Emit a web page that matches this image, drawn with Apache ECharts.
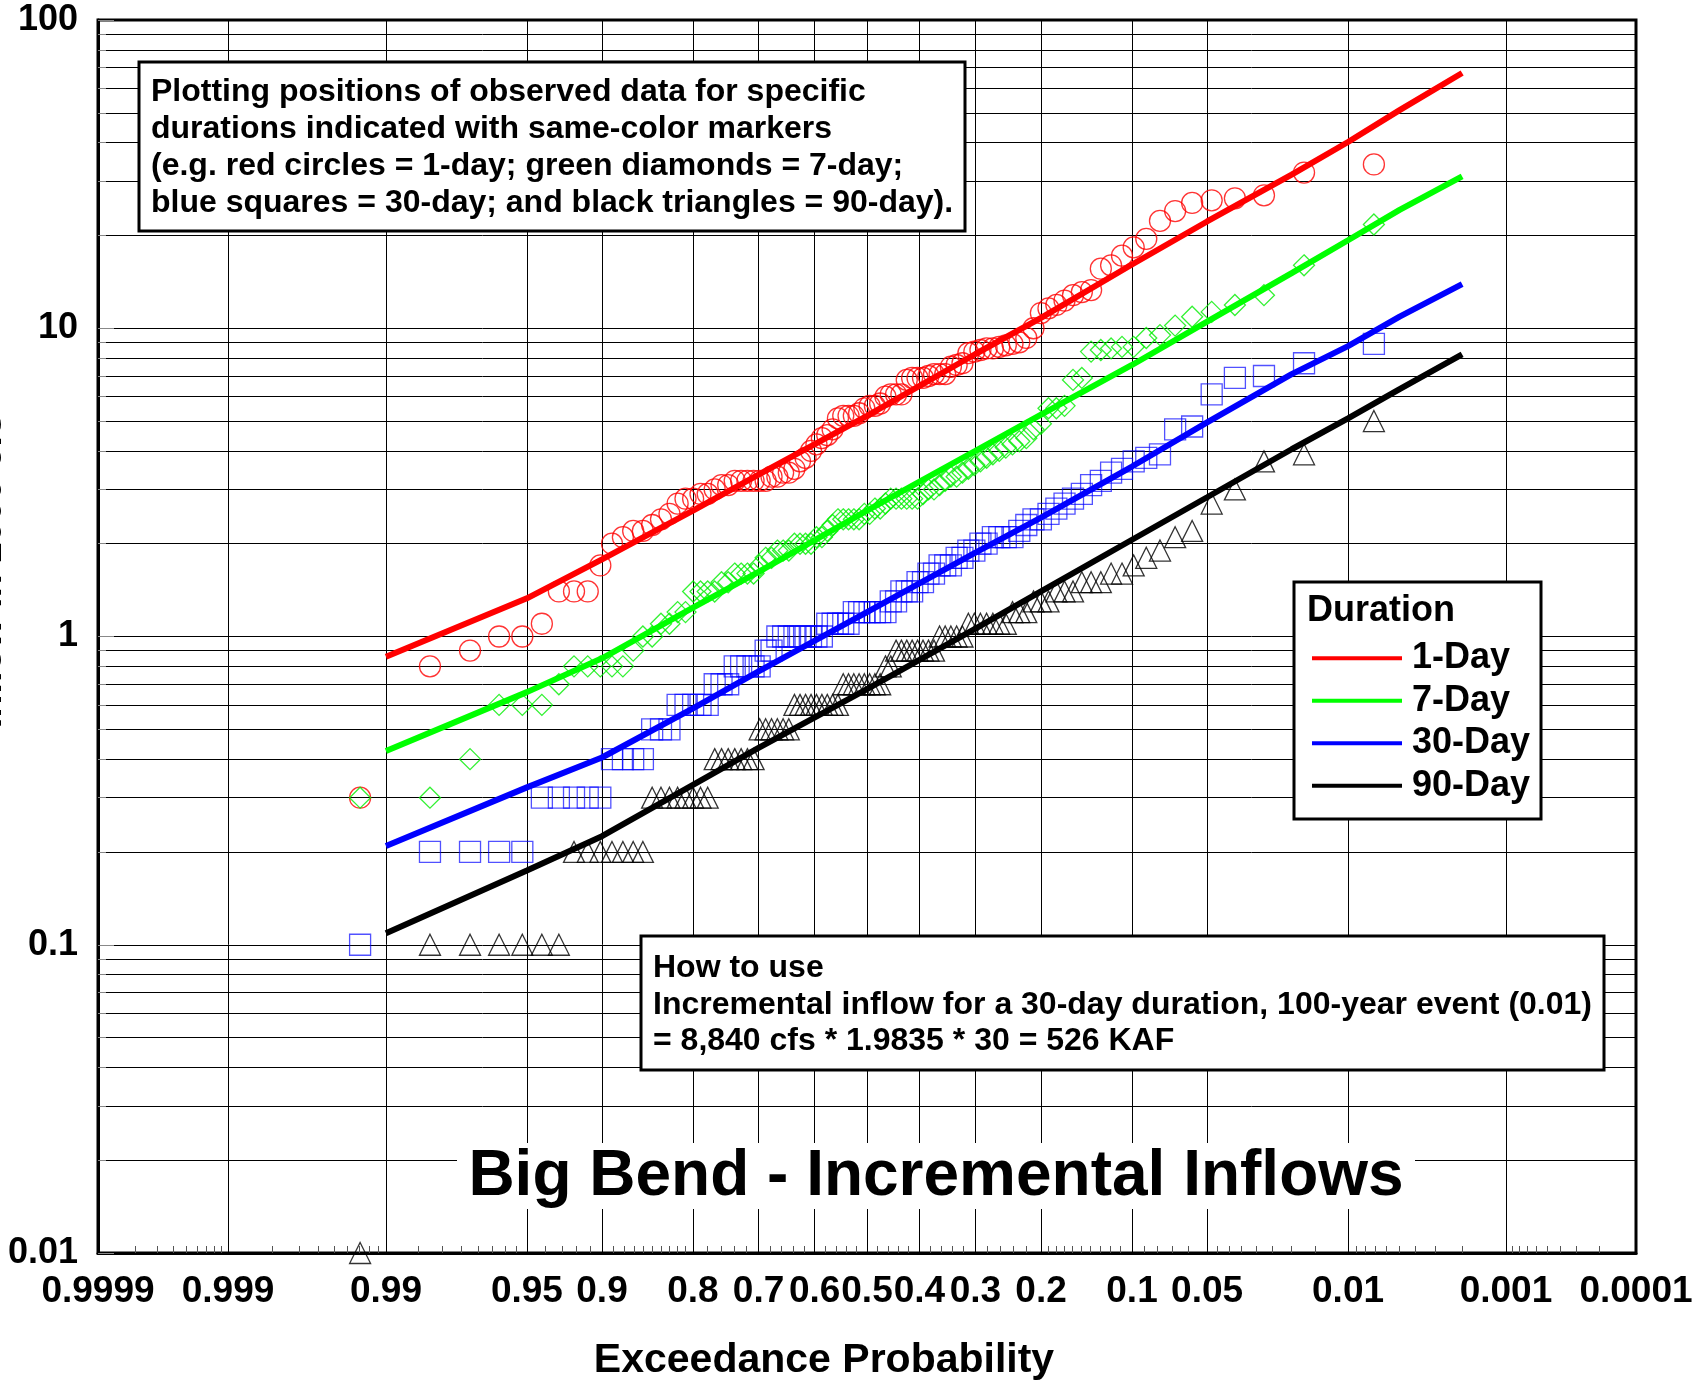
<!DOCTYPE html>
<html>
<head>
<meta charset="utf-8">
<script src="https://cdn.jsdelivr.net/npm/echarts@6/dist/echarts.min.js"></script>
<style>html,body{margin:0;padding:0;background:#fff}#chart{width:1707px;height:1384px}</style>
</head>
<body>
<div id="chart"></div>
<script>
// ---------------- DATA ----------------
// Observed values sorted from largest (rank 1) to smallest (rank 98), in 1000 cfs
const obs1Day = [34, 32, 27, 26.4, 26, 25.5, 24, 22.3, 19.5, 18.3,
  17.2, 16.0, 15.6, 13.3, 13.1, 12.8, 12.3, 11.9, 11.6, 11.2,
  10.0, 9.3, 9.0, 8.9, 8.8, 8.7, 8.6, 8.6, 8.5, 8.4,
  8.3, 7.7, 7.6, 7.5, 7.1, 7.1, 7.1, 7.0, 6.9, 6.9,
  6.9, 6.8, 6.1, 6.1, 6.1, 6.0, 5.7, 5.6, 5.6, 5.5,
  5.3, 5.2, 5.2, 5.2, 5.1, 4.7, 4.5, 4.4, 4.2, 4.0,
  3.8, 3.7, 3.5, 3.4, 3.4, 3.3, 3.3, 3.2, 3.2, 3.2,
  3.2, 3.2, 3.2, 3.1, 3.1, 3.0, 2.9, 2.9, 2.8, 2.8,
  2.7, 2.5, 2.4, 2.3, 2.2, 2.2, 2.1, 2.0, 1.7, 1.4,
  1.4, 1.4, 1.1, 1.0, 1.0, 0.9, 0.8, 0.3];
const obs7Day = [21.7, 16.0, 12.8, 11.9, 11.3, 10.9, 10.2, 9.5, 9.3, 8.7,
  8.7, 8.6, 8.5, 8.4, 6.9, 6.8, 5.6, 5.5, 5.5, 4.9,
  4.7, 4.4, 4.3, 4.2, 4.1, 4.0, 3.9, 3.8, 3.7, 3.6,
  3.5, 3.4, 3.3, 3.3, 3.2, 3.1, 3.0, 3.0, 2.9, 2.8,
  2.8, 2.8, 2.8, 2.8, 2.8, 2.7, 2.6, 2.6, 2.5, 2.5,
  2.4, 2.4, 2.4, 2.4, 2.4, 2.3, 2.2, 2.1, 2.1, 2.0,
  2.0, 2.0, 2.0, 1.9, 1.9, 1.9, 1.8, 1.8, 1.7, 1.6,
  1.6, 1.6, 1.6, 1.5, 1.5, 1.4, 1.4, 1.4, 1.4, 1.2,
  1.2, 1.1, 1.1, 1.0, 1.0, 0.9, 0.8, 0.8, 0.8, 0.8,
  0.8, 0.7, 0.6, 0.6, 0.6, 0.4, 0.3, 0.3];
const obs30Day = [8.9, 7.7, 7.0, 6.9, 6.1, 4.8, 4.7, 3.9, 3.8, 3.7,
  3.5, 3.4, 3.2, 3.1, 2.9, 2.8, 2.7, 2.6, 2.5, 2.4,
  2.4, 2.3, 2.2, 2.1, 2.1, 2.1, 2.1, 2.0, 2.0, 1.9,
  1.9, 1.8, 1.8, 1.7, 1.7, 1.7, 1.6, 1.6, 1.5, 1.5,
  1.4, 1.4, 1.4, 1.3, 1.3, 1.2, 1.2, 1.2, 1.2, 1.2,
  1.2, 1.2, 1.1, 1.1, 1.1, 1.1, 1.1, 1.0, 1.0, 1.0,
  1.0, 1.0, 1.0, 1.0, 1.0, 1.0, 0.9, 0.9, 0.8, 0.8,
  0.8, 0.8, 0.8, 0.7, 0.7, 0.7, 0.6, 0.6, 0.6, 0.6,
  0.6, 0.5, 0.5, 0.5, 0.4, 0.4, 0.4, 0.4, 0.3, 0.3,
  0.3, 0.3, 0.3, 0.2, 0.2, 0.2, 0.2, 0.1];
const obs90Day = [5.0, 3.9, 3.7, 3.0, 2.7, 2.2, 2.1, 1.9, 1.8, 1.7,
  1.6, 1.6, 1.5, 1.5, 1.5, 1.4, 1.4, 1.4, 1.3, 1.3,
  1.3, 1.2, 1.2, 1.2, 1.1, 1.1, 1.1, 1.1, 1.1, 1.1,
  1.1, 1.0, 1.0, 1.0, 1.0, 1.0, 0.9, 0.9, 0.9, 0.9,
  0.9, 0.9, 0.9, 0.9, 0.8, 0.8, 0.7, 0.7, 0.7, 0.7,
  0.7, 0.7, 0.7, 0.7, 0.6, 0.6, 0.6, 0.6, 0.6, 0.6,
  0.6, 0.6, 0.6, 0.5, 0.5, 0.5, 0.5, 0.5, 0.5, 0.4,
  0.4, 0.4, 0.4, 0.4, 0.4, 0.4, 0.3, 0.3, 0.3, 0.3,
  0.3, 0.3, 0.3, 0.3, 0.2, 0.2, 0.2, 0.2, 0.2, 0.2,
  0.2, 0.1, 0.1, 0.1, 0.1, 0.1, 0.1, 0.01];

// Fitted frequency curves (exceedance probability -> 1000 cfs)
const fitProb  = [0.99, 0.95, 0.9, 0.8, 0.7, 0.5, 0.3, 0.2, 0.1, 0.05, 0.02, 0.01, 0.005, 0.002];
const fit1Day  = [0.86, 1.33, 1.78, 2.56, 3.35, 5.2, 8.25, 10.8, 16.1, 22.2, 31.5, 40.2, 51, 67.3];
const fit7Day  = [0.425, 0.66, 0.85, 1.24, 1.62, 2.56, 4.0, 5.25, 7.6, 10.5, 15.1, 19.3, 24.2, 31.1];
const fit30Day = [0.209, 0.324, 0.405, 0.585, 0.77, 1.2, 1.87, 2.43, 3.56, 4.95, 7.1, 8.75, 10.9, 13.9];
const fit90Day = [0.109, 0.174, 0.225, 0.33, 0.435, 0.675, 1.06, 1.4, 2.06, 2.83, 4.05, 5.1, 6.35, 8.23];

const seriesNames = ['1-Day', '7-Day', '30-Day', '90-Day'];
const seriesColors = ['#ff0000', '#00ff00', '#0000ff', '#000000'];

// Probability-axis tick marks
const xTickProbs = [0.9999, 0.999, 0.99, 0.95, 0.9, 0.8, 0.7, 0.6, 0.5, 0.4, 0.3, 0.2, 0.1, 0.05, 0.01, 0.001, 0.0001];
const xTickLabels = ['0.9999', '0.999', '0.99', '0.95', '0.9', '0.8', '0.7', '0.6', '0.5', '0.4', '0.3', '0.2', '0.1', '0.05', '0.01', '0.001', '0.0001'];
const xMinorProbs = [0.9998, 0.9997, 0.9996, 0.9995, 0.9994, 0.9993, 0.9992, 0.9991,
  0.998, 0.997, 0.996, 0.995, 0.994, 0.993, 0.992, 0.991,
  0.985, 0.98, 0.975, 0.97, 0.965, 0.96, 0.955,
  0.94, 0.93, 0.92, 0.91,
  0.89, 0.88, 0.87, 0.86, 0.85, 0.84, 0.83, 0.82, 0.81,
  0.78, 0.76, 0.74, 0.72, 0.68, 0.66, 0.64, 0.62, 0.58, 0.56, 0.54, 0.52,
  0.48, 0.46, 0.44, 0.42, 0.38, 0.36, 0.34, 0.32, 0.28, 0.26, 0.24, 0.22,
  0.19, 0.18, 0.17, 0.16, 0.15, 0.14, 0.13, 0.12, 0.11,
  0.09, 0.08, 0.07, 0.06,
  0.045, 0.04, 0.035, 0.03, 0.025, 0.02, 0.015,
  0.009, 0.008, 0.007, 0.006, 0.005, 0.004, 0.003, 0.002,
  0.0009, 0.0008, 0.0007, 0.0006, 0.0005, 0.0004, 0.0003, 0.0002];

// ---------------- normal-probability scale ----------------
function normInv(p) {
  const a = [-3.969683028665376e+01, 2.209460984245205e+02, -2.759285104469687e+02, 1.383577518672690e+02, -3.066479806614716e+01, 2.506628277459239e+00];
  const b = [-5.447609879822406e+01, 1.615858368580409e+02, -1.556989798598866e+02, 6.680131188771972e+01, -1.328068155288572e+01];
  const c = [-7.784894002430293e-03, -3.223964580411365e-01, -2.400758277161838e+00, -2.549732539343734e+00, 4.374664141464968e+00, 2.938163982698783e+00];
  const d = [7.784695709041462e-03, 3.224671290700398e-01, 2.445134137142996e+00, 3.754408661907416e+00];
  const pl = 0.02425, ph = 1 - pl;
  let q, r;
  if (p < pl) {
    q = Math.sqrt(-2 * Math.log(p));
    return (((((c[0]*q+c[1])*q+c[2])*q+c[3])*q+c[4])*q+c[5]) / ((((d[0]*q+d[1])*q+d[2])*q+d[3])*q+1);
  }
  if (p <= ph) {
    q = p - 0.5; r = q * q;
    return (((((a[0]*r+a[1])*r+a[2])*r+a[3])*r+a[4])*r+a[5])*q / (((((b[0]*r+b[1])*r+b[2])*r+b[3])*r+b[4])*r+1);
  }
  q = Math.sqrt(-2 * Math.log(1 - p));
  return -(((((c[0]*q+c[1])*q+c[2])*q+c[3])*q+c[4])*q+c[5]) / ((((d[0]*q+d[1])*q+d[2])*q+d[3])*q+1);
}
// exceedance probability -> position on the normal-probability axis
function pos(p) { return -normInv(p); }

// median plotting positions (i-0.3)/(n+0.4) of the ranked observations
function plotPos(i, n) { return (i + 1 - 0.3) / (n + 0.4); }

const xTickPos = xTickProbs.map(pos);
const xMinorPos = xMinorProbs.map(pos);
const xMin = pos(0.9999) - 1e-9;
const xMax = pos(0.0001) + 1e-9;

const FONT = "'Liberation Sans', Arial, Helvetica, sans-serif";

function obsData(vals) {
  return vals.map((v, i) => [pos(plotPos(i, vals.length)), v]);
}
function fitData(vals) {
  return vals.map((v, i) => [pos(fitProb[i]), v]);
}

const obsSets = [obs1Day, obs7Day, obs30Day, obs90Day];
const fitSets = [fit1Day, fit7Day, fit30Day, fit90Day];
const symbols = ['circle', 'diamond', 'rect', 'triangle'];
const markerBorder = ['#ff0000', '#00ee00', 'rgba(0,0,255,0.85)', '#000000'];

const series = [];
obsSets.forEach((vals, k) => {
  series.push({
    name: seriesNames[k] + ' observed',
    type: 'scatter',
    data: obsData(vals),
    symbol: symbols[k],
    symbolSize: 21,
    itemStyle: { color: 'rgba(0,0,0,0)', borderColor: markerBorder[k], borderWidth: 1.3 },
    z: 2,
    silent: true
  });
});
fitSets.forEach((vals, k) => {
  series.push({
    name: seriesNames[k],
    type: 'line',
    data: fitData(vals),
    showSymbol: false,
    symbol: 'none',
    lineStyle: { color: seriesColors[k], width: 6 },
    itemStyle: { color: seriesColors[k] },
    z: 3,
    silent: true
  });
});

const chart = echarts.init(document.getElementById('chart'), null, { renderer: 'canvas' });

const option = {
  animation: false,
  backgroundColor: '#ffffff',
  grid: { left: 98, right: 71, top: 20, bottom: 131, show: true, borderColor: '#000', borderWidth: 3, backgroundColor: 'rgba(0,0,0,0)' },
  xAxis: [{
    type: 'value', min: xMin, max: xMax,
    axisLine: { show: true, onZero: false, lineStyle: { color: '#000', width: 3 } },
    axisTick: { show: true, inside: true, length: 6, customValues: xTickPos, lineStyle: { color: '#000' } },
    splitLine: { show: true, lineStyle: { color: '#000', width: 1 } },
    axisLabel: {
      customValues: xTickPos,
      formatter: function (v) {
        for (let i = 0; i < xTickPos.length; i++) {
          if (Math.abs(xTickPos[i] - v) < 1e-6) return xTickLabels[i];
        }
        return '';
      },
      fontFamily: FONT, fontSize: 37, fontWeight: 'bold', color: '#000', margin: 20
    }
  }, {
    type: 'value', min: xMin, max: xMax, position: 'bottom',
    axisLine: { show: false, onZero: false },
    axisLabel: { show: false },
    splitLine: { show: false },
    axisTick: { show: true, inside: true, length: 7, customValues: xMinorPos, lineStyle: { color: '#555' } }
  }],
  yAxis: {
    type: 'log', logBase: 10, min: 0.01, max: 100,
    axisLine: { show: true, onZero: false, lineStyle: { color: '#000', width: 3 } },
    axisTick: { show: true, inside: true, length: 16, lineStyle: { color: '#888' } },
    minorTick: { show: true, splitNumber: 9, length: 8, lineStyle: { color: '#888' } },
    splitLine: { show: true, lineStyle: { color: '#000', width: 1 } },
    minorSplitLine: { show: true, lineStyle: { color: '#000', width: 1 } },
    axisLabel: {
      fontFamily: FONT, fontSize: 36, fontWeight: 'bold', color: '#000', margin: 20,
      formatter: function (v) { return String(+(+v).toPrecision(3)); }
    }
  },
  legend: {
    data: seriesNames,
    orient: 'vertical',
    left: 1307, top: 635,
    icon: 'rect', itemWidth: 90, itemHeight: 4, itemGap: 6,
    textStyle: { fontFamily: FONT, fontSize: 36, fontWeight: 'bold', color: '#000', lineHeight: 36.5, padding: [0, 0, 0, 5] },
    selectedMode: false,
    z: 20
  },
  graphic: [
    // y axis name (mostly cut off at the left edge)
    { type: 'text', x: 10, y: 571, rotation: Math.PI / 2, z: 50,
      style: { text: 'Inflow in 1000 cfs', font: 'bold 38px ' + FONT, fill: '#000', textAlign: 'center', textVerticalAlign: 'bottom', align: 'center', verticalAlign: 'bottom' } },
    // x axis name
    { type: 'text', x: 824, y: 1361, z: 50,
      style: { text: 'Exceedance Probability', font: 'bold 41px ' + FONT, fill: '#000', textAlign: 'center', textVerticalAlign: 'middle', align: 'center', verticalAlign: 'middle' } },
    // note box (top left)
    { type: 'rect', z: 40, shape: { x: 139, y: 62, width: 826, height: 169 },
      style: { fill: '#fff', stroke: '#000', lineWidth: 3 } },
    { type: 'text', x: 151, y: 74, z: 41,
      style: { text: 'Plotting positions of observed data for specific\ndurations indicated with same-color markers\n(e.g. red circles = 1-day; green diamonds = 7-day;\nblue squares = 30-day; and black triangles = 90-day).',
        font: 'bold 32px ' + FONT, lineHeight: 37, fill: '#000', textAlign: 'left', textVerticalAlign: 'top', align: 'left', verticalAlign: 'top' } },
    // how-to-use box
    { type: 'rect', z: 40, shape: { x: 641, y: 936, width: 963, height: 134 },
      style: { fill: '#fff', stroke: '#000', lineWidth: 3 } },
    { type: 'text', x: 653, y: 950, z: 41,
      style: { text: 'How to use\nIncremental inflow for a 30-day duration, 100-year event (0.01)\n= 8,840 cfs * 1.9835 * 30 = 526 KAF',
        font: 'bold 32px ' + FONT, lineHeight: 36.5, fill: '#000', textAlign: 'left', textVerticalAlign: 'top', align: 'left', verticalAlign: 'top' } },
    // legend box
    { type: 'rect', z: 10, shape: { x: 1294, y: 582, width: 247, height: 237 },
      style: { fill: '#fff', stroke: '#000', lineWidth: 3 } },
    { type: 'text', x: 1307, y: 611, z: 11,
      style: { text: 'Duration', font: 'bold 36px ' + FONT, fill: '#000', textAlign: 'left', textVerticalAlign: 'middle', align: 'left', verticalAlign: 'middle' } },
    // chart title inside the plot
    { type: 'rect', z: 40, shape: { x: 457, y: 1143, width: 958, height: 66 },
      style: { fill: '#fff', lineWidth: 0 } },
    { type: 'text', x: 936, y: 1177, z: 41,
      style: { text: 'Big Bend - Incremental Inflows', font: 'bold 64px ' + FONT, fill: '#000', textAlign: 'center', textVerticalAlign: 'middle', align: 'center', verticalAlign: 'middle' } }
  ],
  series: series
};
chart.setOption(option);
</script>
</body>
</html>
